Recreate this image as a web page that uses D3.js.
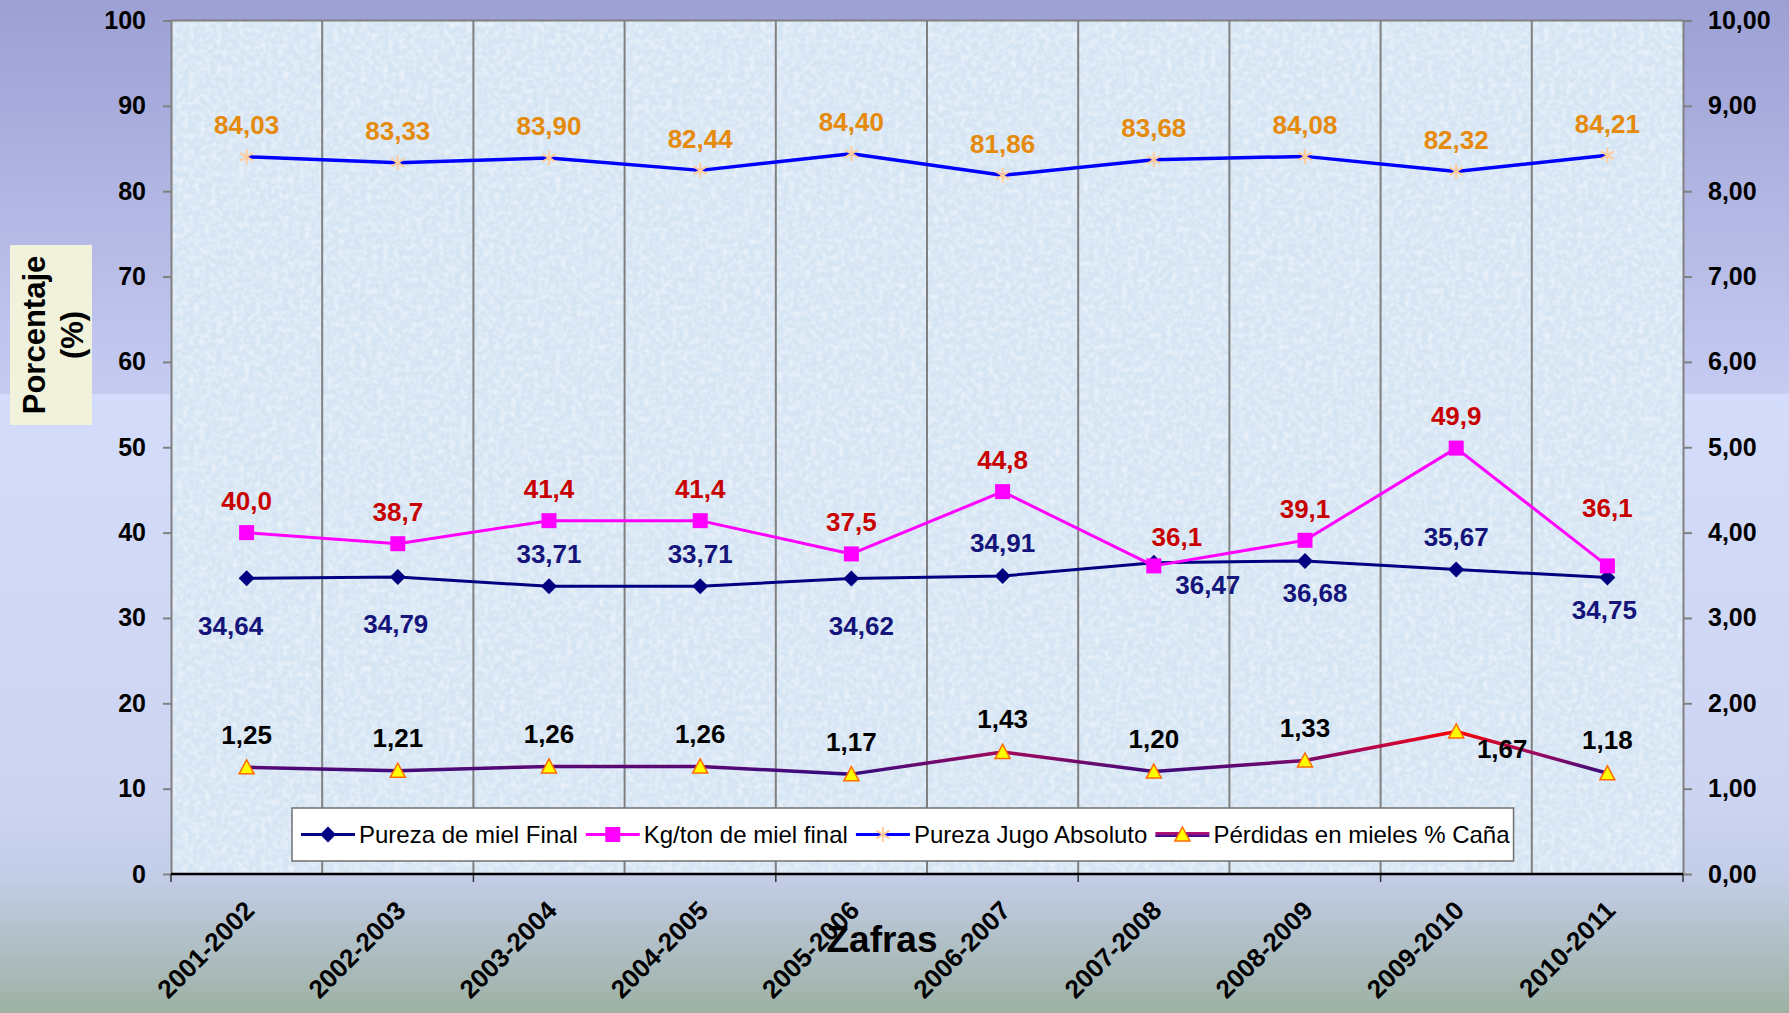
<!DOCTYPE html>
<html>
<head>
<meta charset="utf-8">
<script src="https://cdn.jsdelivr.net/npm/d3@7"></script>
<style>
  html, body { margin: 0; padding: 0; overflow: hidden; }
  svg { display: block; font-family: "Liberation Sans", Arial, sans-serif; }
</style>
</head>
<body>
<svg id="chart" width="1789" height="1013"></svg>
<script>
// datos
const categorias = ["2001-2002", "2002-2003", "2003-2004", "2004-2005", "2005-2006",
  "2006-2007", "2007-2008", "2008-2009", "2009-2010", "2010-2011"];
const purezaMiel = [34.64, 34.79, 33.71, 33.71, 34.62, 34.91, 36.47, 36.68, 35.67, 34.75];
const kgTon = [40.0, 38.7, 41.4, 41.4, 37.5, 44.8, 36.1, 39.1, 49.9, 36.1];
const purezaJugo = [84.03, 83.33, 83.90, 82.44, 84.40, 81.86, 83.68, 84.08, 82.32, 84.21];
const perdidas = [1.25, 1.21, 1.26, 1.26, 1.17, 1.43, 1.20, 1.33, 1.67, 1.18];
const ticksIzq = [0, 10, 20, 30, 40, 50, 60, 70, 80, 90, 100];
const ticksDer = [0, 1, 2, 3, 4, 5, 6, 7, 8, 9, 10];
const nombres = ["Pureza de miel Final", "Kg/ton de miel final", "Pureza Jugo Absoluto", "Pérdidas en mieles % Caña"];

// desplazamiento de etiquetas (como en el original)
const offMiel = [[-16, 47], [-2, 47], [0, -33], [0, -33], [10, 47], [0, -33], [54, 22], [10, 32], [0, -33], [-3, 32]];
const offKg = [[0, -32], [0, -32], [0, -32], [0, -32], [0, -32], [0, -32], [23, -29], [0, -32], [0, -32], [0, -58]];
const offPerd = [[0, -33], [0, -33], [0, -33], [0, -33], [0, -33], [0, -33], [0, -33], [0, -33], [46, 17], [0, -34]];

const svg = d3.select("#chart");
const W = 1789, H = 1013;
const pl = 171, pr = 1683, pt = 20.5, pb = 874;

const loc = d3.formatLocale({ decimal: ",", thousands: ".", grouping: [3], currency: ["", ""] });
const f2 = loc.format(".2f"), f1 = loc.format(".1f");

const defs = svg.append("defs");

// fondo
const gTop = defs.append("linearGradient").attr("id", "bgTop").attr("x1", 0).attr("x2", 0).attr("y1", 0).attr("y2", 1);
gTop.append("stop").attr("offset", 0).attr("stop-color", "#9ca0d4");
gTop.append("stop").attr("offset", 1).attr("stop-color", "#c5cbf1");
const gBot = defs.append("linearGradient").attr("id", "bgBot").attr("x1", 0).attr("x2", 0).attr("y1", 0).attr("y2", 1);
gBot.append("stop").attr("offset", 0).attr("stop-color", "#d4dcfb");
gBot.append("stop").attr("offset", 0.65).attr("stop-color", "#ccd4f2");
gBot.append("stop").attr("offset", 0.78).attr("stop-color", "#c3cde7");
gBot.append("stop").attr("offset", 1).attr("stop-color", "#9db1a3");

svg.append("rect").attr("width", W).attr("height", 394).attr("fill", "url(#bgTop)");
svg.append("rect").attr("y", 394).attr("width", W).attr("height", H - 394).attr("fill", "url(#bgBot)");

// textura del area de trazado
const tex = defs.append("filter").attr("id", "tex").attr("x", 0).attr("y", 0).attr("width", 1).attr("height", 1);
tex.append("feTurbulence").attr("type", "fractalNoise").attr("baseFrequency", 0.18).attr("numOctaves", 2).attr("seed", 4);
tex.append("feColorMatrix").attr("type", "matrix")
  .attr("values", "0 0 0 0 1  0 0 0 0 1  0 0 0 0 1  0 0 0 1.8 -0.7");

svg.append("rect").attr("x", pl).attr("y", pt).attr("width", pr - pl).attr("height", pb - pt)
  .attr("fill", "#d6e5f4");
svg.append("rect").attr("x", pl).attr("y", pt).attr("width", pr - pl).attr("height", pb - pt)
  .attr("filter", "url(#tex)").attr("opacity", 0.6);

// escalas
const xBand = d3.scaleBand().domain(categorias).range([pl, pr]);
const x = d3.scalePoint().domain(categorias).range([pl, pr]).padding(0.5);
const yL = d3.scaleLinear().domain([0, 100]).range([pb, pt]);
const yR = d3.scaleLinear().domain([0, 10]).range([pb, pt]);

// lineas de division verticales
svg.append("g").selectAll("line")
  .data(categorias.slice(1))
  .join("line")
  .attr("x1", d => xBand(d)).attr("x2", d => xBand(d))
  .attr("y1", pt).attr("y2", pb)
  .attr("stroke", "#808080").attr("stroke-width", 2);

// borde superior
svg.append("line").attr("x1", pl).attr("x2", pr).attr("y1", pt).attr("y2", pt)
  .attr("stroke", "#808080").attr("stroke-width", 2);

// eje izquierdo
const axL = svg.append("g").attr("transform", `translate(${pl},0)`)
  .call(d3.axisLeft(yL).tickValues(ticksIzq).tickSize(8).tickSizeOuter(0).tickPadding(17));
axL.select(".domain").attr("stroke", "#808080").attr("stroke-width", 2);
axL.selectAll(".tick line").attr("stroke", "#808080").attr("stroke-width", 2);
axL.selectAll(".tick text").attr("font-size", 25).attr("font-weight", "bold").attr("fill", "#000")
  .attr("font-family", "Liberation Sans, Arial, sans-serif");

// eje derecho
const axR = svg.append("g").attr("transform", `translate(${pr},0)`)
  .call(d3.axisRight(yR).tickValues(ticksDer).tickFormat(f2).tickSize(9).tickSizeOuter(0).tickPadding(16));
axR.select(".domain").attr("stroke", "#808080").attr("stroke-width", 2);
axR.selectAll(".tick line").attr("stroke", "#808080").attr("stroke-width", 2);
axR.selectAll(".tick text").attr("font-size", 25).attr("font-weight", "bold").attr("fill", "#000")
  .attr("font-family", "Liberation Sans, Arial, sans-serif");

// eje inferior: marcas cada dos categorias
const bordes = categorias.map(c => xBand(c)).concat([pr]).filter((d, i) => i % 2 === 0);
svg.append("g").selectAll("line").data(bordes).join("line")
  .attr("x1", d => d).attr("x2", d => d).attr("y1", pb).attr("y2", pb + 8)
  .attr("stroke", "#333").attr("stroke-width", 1.5);
svg.append("line").attr("x1", pl).attr("x2", pr).attr("y1", pb).attr("y2", pb)
  .attr("stroke", "#000").attr("stroke-width", 2.5);

const axB = svg.append("g").attr("transform", `translate(0,${pb})`)
  .call(d3.axisBottom(x).tickSize(0));
axB.select(".domain").remove();
axB.selectAll(".tick text")
  .attr("x", 0).attr("y", 0).attr("dy", 0)
  .attr("transform", "translate(9,38) rotate(-45)")
  .attr("text-anchor", "end")
  .attr("font-size", 26).attr("font-weight", "bold").attr("fill", "#000")
  .attr("font-family", "Liberation Sans, Arial, sans-serif");

// titulos de ejes
svg.append("text").attr("x", 882).attr("y", 952).attr("text-anchor", "middle")
  .attr("font-size", 37).attr("font-weight", "bold").text("Zafras");

svg.append("rect").attr("x", 10).attr("y", 245).attr("width", 82).attr("height", 180).attr("fill", "#f0f2dc");
const yt = svg.append("text").attr("transform", "translate(45,335) rotate(-90)")
  .attr("text-anchor", "middle").attr("font-size", 31).attr("font-weight", "bold");
yt.append("tspan").attr("x", 0).attr("y", 0).text("Porcentaje");
yt.append("tspan").attr("x", 0).attr("y", 38).text("(%)");

// series
const linea = (sc) => d3.line().x((d, i) => x(categorias[i])).y(d => sc(d));

const diamante = "M0,-8L8,0L0,8L-8,0Z";
const cuadrado = "M-7.5,-7.5H7.5V7.5H-7.5Z";
const asterisco = "M0,-7.5V7.5M-6.5,-3.8L6.5,3.8M-6.5,3.8L6.5,-3.8";
const triangulo = "M0,-7.5L7.5,6.5H-7.5Z";

// gradiente para Pérdidas
const gP = defs.append("linearGradient").attr("id", "gradPerd").attr("gradientUnits", "userSpaceOnUse")
  .attr("x1", 0).attr("x2", 0).attr("y1", yR(1.68)).attr("y2", yR(1.15));
gP.append("stop").attr("offset", 0).attr("stop-color", "#ff0000");
gP.append("stop").attr("offset", 0.45).attr("stop-color", "#a80858");
gP.append("stop").attr("offset", 1).attr("stop-color", "#2a0a84");
const gPL = defs.append("linearGradient").attr("id", "gradPerdLeg").attr("x1", 0).attr("x2", 0).attr("y1", 0).attr("y2", 1);
gPL.append("stop").attr("offset", 0).attr("stop-color", "#c0106a");
gPL.append("stop").attr("offset", 0.5).attr("stop-color", "#8a1080");
gPL.append("stop").attr("offset", 1).attr("stop-color", "#200a90");

const series = [
  { datos: purezaMiel, esc: yL, color: "#000080", ancho: 3, marca: diamante, relleno: "#000080", borde: "none", off: offMiel, fmt: f2, colorEt: "#14147a" },
  { datos: kgTon, esc: yL, color: "#ff00ff", ancho: 3, marca: cuadrado, relleno: "#ff00ff", borde: "none", off: offKg, fmt: f1, colorEt: "#c80000" },
  { datos: purezaJugo, esc: yL, color: "#0000ff", ancho: 3.5, marca: asterisco, relleno: "none", borde: "#ffcc99", off: null, fmt: f2, colorEt: "#e58a0c" },
  { datos: perdidas, esc: yR, color: "url(#gradPerd)", ancho: 3.5, marca: triangulo, relleno: "#ffff00", borde: "#ff6a00", off: offPerd, fmt: f2, colorEt: "#000" }
];

series.forEach(s => {
  svg.append("path").datum(s.datos)
    .attr("d", linea(s.esc))
    .attr("fill", "none").attr("stroke", s.color).attr("stroke-width", s.ancho)
    .attr("stroke-linejoin", "round");
  svg.append("g").selectAll("path").data(s.datos).join("path")
    .attr("transform", (d, i) => `translate(${x(categorias[i])},${s.esc(d)})`)
    .attr("d", s.marca)
    .attr("fill", s.relleno).attr("stroke", s.borde).attr("stroke-width", s.marca === asterisco ? 2 : 1.5);
});

series.forEach(s => {
  svg.append("g").selectAll("text").data(s.datos).join("text")
    .attr("x", (d, i) => x(categorias[i]) + (s.off ? s.off[i][0] : 0))
    .attr("y", (d, i) => s.esc(d) + (s.off ? s.off[i][1] : -32))
    .attr("dy", "0.36em")
    .attr("text-anchor", "middle")
    .attr("font-size", 26).attr("font-weight", "bold")
    .attr("fill", s.colorEt)
    .text(d => s.fmt(d));
});

// leyenda
const leg = svg.append("g");
const legBox = leg.append("rect").attr("x", 292).attr("y", 808).attr("height", 53)
  .attr("fill", "#fff").attr("stroke", "#707070").attr("stroke-width", 1.5);
let cx = 301;
const cy = 834.5;
series.forEach((s, i) => {
  if (i === 3) {
    leg.append("rect").attr("x", cx).attr("y", cy - 2.5).attr("width", 54).attr("height", 5)
      .attr("fill", "url(#gradPerdLeg)");
  } else {
    leg.append("line").attr("x1", cx).attr("x2", cx + 54).attr("y1", cy).attr("y2", cy)
      .attr("stroke", s.color).attr("stroke-width", 3);
  }
  leg.append("path").attr("transform", `translate(${cx + 27},${cy})`).attr("d", s.marca)
    .attr("fill", s.relleno).attr("stroke", s.borde).attr("stroke-width", s.marca === asterisco ? 2 : 1.5);
  const t = leg.append("text").attr("x", cx + 58).attr("y", cy).attr("dy", "0.35em")
    .attr("font-size", 24).attr("fill", "#000").text(nombres[i]);
  cx = cx + 58 + t.node().getComputedTextLength() + 8;
});
legBox.attr("width", cx - 4 - 292);
</script>
</body>
</html>
